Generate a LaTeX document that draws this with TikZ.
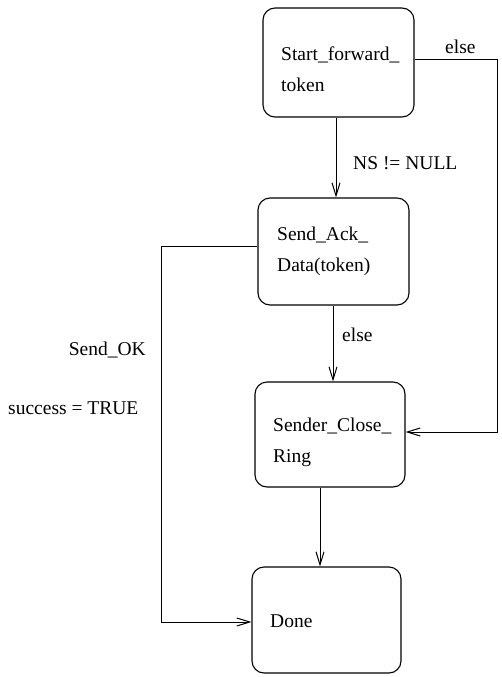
\documentclass[tikz,border=0pt]{standalone}
\usepackage{fontspec}
\setmainfont{Liberation Serif}
\usetikzlibrary{arrows.meta}
\begin{document}
\begin{tikzpicture}[x=1pt, y=-1pt,
  state/.style={draw, line width=1.1pt, rounded corners=12pt, inner sep=0pt},
  boxtext/.style={anchor=base west, align=left, inner sep=0pt,
    font=\fontsize{19.5}{31}\selectfont},
  lbl/.style={inner sep=0pt, font=\fontsize{19.5}{24}\selectfont},
  flow/.style={line width=1pt, -{Straight Barb[length=13pt,width=8pt]}}]
\useasboundingbox (0,0) rectangle (502,677);

% states
\node[state, minimum width=151pt, minimum height=109pt] (start) at (338.5,62.5) {};
\node[state, minimum width=151pt, minimum height=107pt] (ack) at (333.5,251.5) {};
\node[state, minimum width=150pt, minimum height=105pt] (close) at (330,434.5) {};
\node[state, minimum width=149pt, minimum height=106pt] (done) at (326.5,620) {};

% state names (anchored on the baseline of the last line)
\node[boxtext] (tstart) at (281,92) {Start\_forward\_\\token};
\node[boxtext] (tack) at (277,271) {Send\_Ack\_\\Data(token)};
\node[boxtext] (tclose) at (273,462) {Sender\_Close\_\\Ring};
\node[boxtext] (tdone) at (270,627) {Done};

% bend points
\coordinate (elseTop) at (497,60);
\coordinate (elseBot) at (497,432);
\coordinate (okTop) at (161,246);
\coordinate (okBot) at (161,622);

% transitions
\draw[flow] (start.south -| 336,0) -- (ack.north -| 336,0);
\draw[flow] (ack.south -| 333,0) -- (close.north -| 333,0);
\draw[flow] (close.south -| 320,0) -- (done.north -| 320,0);
\draw[flow] (start.east |- elseTop) -- (elseTop) -- (elseBot) -- (close.east |- elseBot);
\draw[flow] (ack.west |- okTop) -- (okTop) -- (okBot) -- (done.west |- okBot);

% transition labels
\node[lbl, anchor=base west] (lelse1) at (445,54) {else};
\node[lbl, anchor=base west] (lns) at (353,169) {NS != NULL};
\node[lbl, anchor=base west] (lelse2) at (342,341) {else};
\node[lbl, anchor=base east] (lok) at (146,355) {Send\_OK};
\node[lbl, anchor=base west] (lsucc) at (8,414) {success = TRUE};
\end{tikzpicture}
\end{document}
